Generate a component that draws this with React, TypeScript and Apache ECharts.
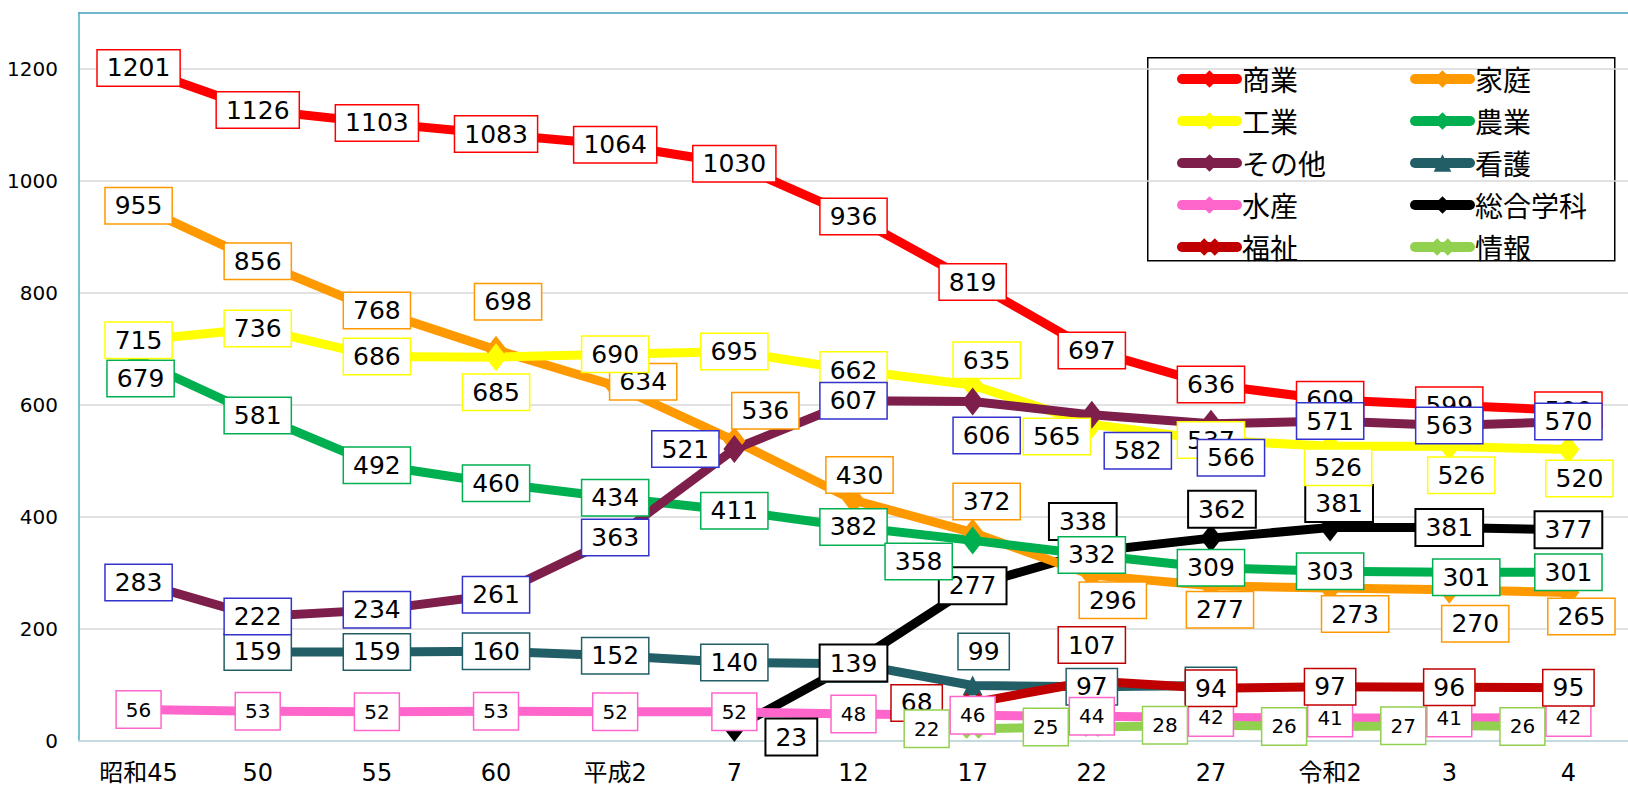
import React, { useEffect, useRef } from "react";
import * as echarts from "echarts";

const categories = ["昭和45", "50", "55", "60", "平成2", "7", "12", "17", "22", "27", "令和2", "3", "4"];
const yTicks = { min: 0, max: 1300, interval: 200 };

const commerce = [1201, 1126, 1103, 1083, 1064, 1030, 936, 819, 697, 636, 609, 599, 590];
const homeEc = [955, 856, 768, 698, 634, 536, 430, 372, 296, 277, 273, 270, 265];
const industry = [715, 736, 686, 685, 690, 695, 662, 635, 565, 537, 526, 526, 520];
const agriculture = [679, 581, 492, 460, 434, 411, 382, 358, 332, 309, 303, 301, 301];
const other = [283, 222, 234, 261, 363, 521, 607, 606, 582, 566, 571, 563, 570];
const nursing = [null, 159, 159, 160, 152, 140, 138, 99, 97, 99, null, null, null];
const fishery = [56, 53, 52, 53, 52, 52, 48, 46, 44, 42, 41, 41, 42];
const integrated = [null, null, null, null, null, 23, 139, 277, 338, 362, 381, 381, 377];
const welfare = [null, null, null, null, null, null, null, 68, 107, 94, 97, 96, 95];
const info = [null, null, null, null, null, null, null, 22, 25, 28, 26, 27, 26];

// label offsets (layout only)
const Z: [number, number] = [0, 0];
const offCommerce = categories.map(() => Z);
const offHome: [number, number][] = [Z, Z, Z, [12, -48], [28, -4], [31, -30], [6, -25], [14, -31], [21, 25], [9, 24], [25, 26], [26, 34], [13, 24]];
const offIndustry: [number, number][] = [Z, Z, Z, [0, 35], Z, Z, Z, [14, -25], [-35, 12], Z, [8, 21], [12, 29], [11, 29]];
const offAgri: [number, number][] = [[2, 18], Z, Z, Z, Z, Z, Z, [-54, 21], Z, Z, Z, [17, 5], Z];
const offOther: [number, number][] = [Z, Z, Z, Z, Z, [-49, 0], Z, [14, 34], [46, 36], [20, 34], Z, Z, Z];
const offNursing: [number, number][] = [Z, Z, Z, Z, Z, Z, Z, [11, -34], Z, Z, Z, Z, Z];
const offFishery = categories.map(() => Z);
const offIntegrated: [number, number][] = [Z, Z, Z, Z, Z, [57, 9], Z, Z, [-9, -30], [11, -29], [9, -24], Z, Z];
const offWelfare: [number, number][] = [Z, Z, Z, Z, Z, Z, Z, [-56, 0], [0, -36], Z, Z, Z, Z];
const offInfo: [number, number][] = [Z, Z, Z, Z, Z, Z, Z, [-46, 0], [-46, 0], [-46, 0], [-46, 0], [-46, 0], [-46, 0]];

const XPATH = "path://M2,0 L5,3 L8,0 L10,2 L7,5 L10,8 L8,10 L5,7 L2,10 L0,8 L3,5 L0,2 Z";

function makeSeries(
  name: string,
  values: (number | null)[],
  color: string,
  border: string,
  offsets: [number, number][],
  symbol: string,
  symbolSize: number | number[],
  small: boolean,
  borderWidth = 1.5
) {
  return {
    name,
    type: "line",
    data: values.map((v, i) => (v == null ? null : { value: v, label: { offset: offsets[i] } })),
    color,
    symbol,
    symbolSize,
    showSymbol: true,
    showAllSymbol: true,
    connectNulls: false,
    itemStyle: { color },
    lineStyle: { color, width: 9, cap: "round", join: "round" },
    label: {
      show: true,
      position: "inside",
      color: "#000",
      fontFamily: "DejaVu Sans",
      fontSize: small ? 20 : 25,
      lineHeight: small ? 22 : 27,
      padding: small ? [7, 9] : [4, 9],
      backgroundColor: "#fff",
      borderColor: border,
      borderWidth,
    },
    emphasis: { disabled: true },
  };
}

export default function App() {
  const ref = useRef<HTMLDivElement>(null);
  useEffect(() => {
    if (!ref.current) return;
    const chart = echarts.init(ref.current, undefined, { renderer: "svg" });
    const series = [
      makeSeries("看護", nursing, "#225E66", "#225E66", offNursing, "triangle", 20, false),
      makeSeries("総合学科", integrated, "#000000", "#000000", offIntegrated, "diamond", [22, 28], false, 2),
      makeSeries("商業", commerce, "#FF0000", "#FF0000", offCommerce, "diamond", [22, 28], false),
      makeSeries("家庭", homeEc, "#FF9900", "#FF9900", offHome, "diamond", [22, 28], false),
      makeSeries("農業", agriculture, "#00B050", "#00B050", offAgri, "diamond", [22, 28], false),
      makeSeries("工業", industry, "#FFFF00", "#FFFF00", offIndustry, "diamond", [22, 28], false),
      makeSeries("その他", other, "#7E1E4A", "#3333CC", offOther, "diamond", [22, 28], false),
      makeSeries("水産", fishery, "#FF66CC", "#FF66CC", offFishery, "diamond", [22, 28], true),
      makeSeries("福祉", welfare, "#C00000", "#C00000", offWelfare, XPATH, 20, false),
      makeSeries("情報", info, "#92D050", "#92D050", offInfo, XPATH, 20, true),
    ];
    const legendCommon = {
      orient: "vertical",
      itemWidth: 55,
      itemHeight: 22,
      itemGap: 14,
      top: 60,
      textStyle: { fontSize: 28, lineHeight: 26, color: "#000", fontFamily: "Noto Sans CJK JP" },
      lineStyle: { width: 10, cap: "round" },
      selectedMode: false,
    };
    chart.setOption({
      animation: false,
      backgroundColor: "#fff",
      grid: { left: 79, top: 12.5, width: 1554, height: 728.5, containLabel: false },
      xAxis: [
        {
          type: "category",
          data: categories,
          boundaryGap: true,
          axisLine: { show: true, lineStyle: { color: "#C5DADF", width: 2 } },
          axisTick: { show: false },
          axisLabel: { fontSize: 24, margin: 20, color: "#000", fontFamily: "DejaVu Sans, Noto Sans CJK JP", interval: 0 },
          splitLine: { show: false },
        },
        {
          type: "category",
          data: categories,
          position: "top",
          axisLine: { show: true, lineStyle: { color: "#4BACC6", width: 1.5 } },
          axisTick: { show: false },
          axisLabel: { show: false },
        },
      ],
      yAxis: {
        type: "value",
        min: yTicks.min,
        max: yTicks.max,
        interval: yTicks.interval,
        axisLine: { show: true, lineStyle: { color: "#4BACC6", width: 1.5 } },
        axisTick: { show: false },
        axisLabel: {
          fontSize: 20,
          margin: 21,
          color: "#000",
          fontFamily: "DejaVu Sans",
          showMaxLabel: false,
          formatter: (v: number) => String(v),
        },
        splitLine: { show: true, lineStyle: { color: "#D9D9D9", width: 1.5 } },
      },
      legend: [
        { ...legendCommon, left: 1172, data: ["商業", "工業", "その他", "水産", "福祉"] },
        { ...legendCommon, left: 1405, data: ["家庭", "農業", "看護", "総合学科", "情報"] },
      ],
      graphic: [
        {
          type: "rect",
          left: 1147,
          top: 57,
          shape: { width: 467, height: 203 },
          style: { fill: "#fff", stroke: "#000", lineWidth: 1.5 },
          z: 0,
        },
      ],
      series,
    });
    return () => chart.dispose();
  }, []);
  return <div ref={ref} style={{ position: "absolute", left: 0, top: 0, width: 1628, height: 795 }} />;
}
